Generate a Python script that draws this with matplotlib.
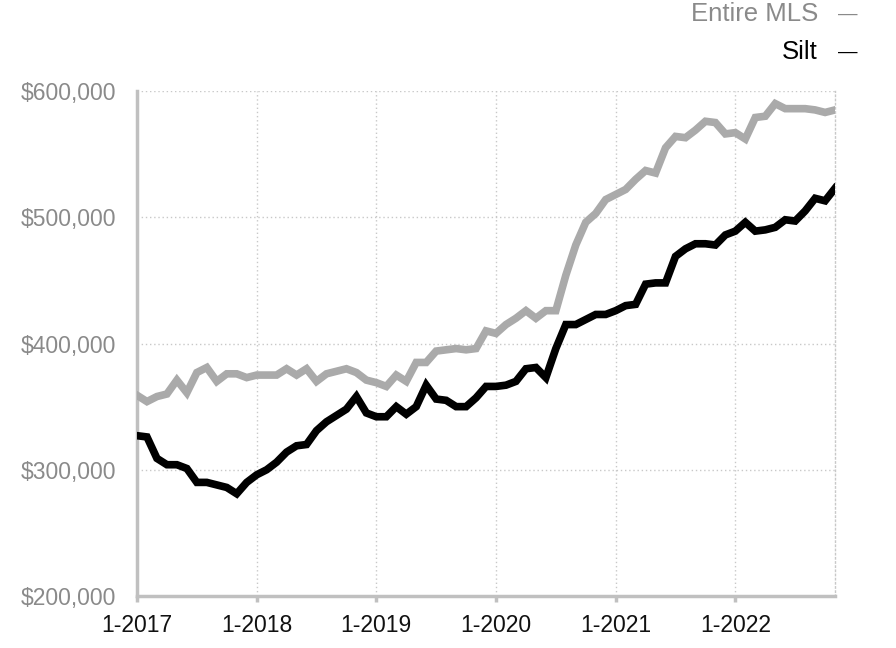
import matplotlib.pyplot as plt
import numpy as np

plt.rcParams['font.family'] = ['Liberation Sans', 'DejaVu Sans']

# monthly median price, Jan 2017 .. Nov 2022
entire_mls = [359, 354, 358, 360, 371, 361, 377, 381, 370, 376, 376, 373,
              375, 375, 375, 380, 375, 380, 370, 376, 378, 380, 377, 371,
              369, 366, 375, 370, 385, 385, 394, 395, 396, 395, 396, 410,
              408, 415, 420, 426, 420, 426, 426, 454, 478, 496, 503, 514,
              518, 522, 530, 537, 535, 555, 564, 563, 569, 576, 575, 566,
              567, 562, 579, 580, 590, 586, 586, 586, 585, 583, 585]
silt = [327, 326, 309, 304, 304, 301, 290, 290, 288, 286, 281, 290,
        296, 300, 306, 314, 319, 320, 331, 338, 343, 348, 358, 345,
        342, 342, 350, 344, 350, 367, 356, 355, 350, 350, 357, 366,
        366, 367, 370, 380, 381, 373, 396, 415, 415, 419, 423, 423,
        426, 430, 431, 447, 448, 448, 469, 475, 479, 479, 478, 486,
        489, 496, 489, 490, 492, 498, 497, 505, 515, 513, 523]
years = ['1-2017', '1-2018', '1-2019', '1-2020', '1-2021', '1-2022']
yticks = [200000, 300000, 400000, 500000, 600000]

months = np.arange(len(silt))
mls_vals = np.array(entire_mls) * 1000
silt_vals = np.array(silt) * 1000

fig = plt.figure(figsize=(8.96, 6.48), dpi=100)
ax = fig.add_axes([0.1529, 0.0802, 0.7791, 0.7794])

ax.plot(months, mls_vals, color='#aaaaaa', lw=5.5, solid_joinstyle='miter', zorder=3)
ax.plot(months, silt_vals, color='black', lw=5.5, solid_joinstyle='miter', zorder=4)

ax.set_xlim(0, len(silt) - 1)
ax.set_ylim(200000, 600000)
ax.set_xticks(np.arange(0, 72, 12))
ax.set_xticklabels(years)
ax.set_yticks(yticks)
ax.set_yticklabels(['${:,}'.format(v) for v in yticks])

ax.grid(True, color='#c8c8c8', linestyle=(0, (1, 2)), lw=1)
ax.set_axisbelow(True)

ax.spines['top'].set_visible(False)
ax.spines['right'].set_color('#c8c8c8')
ax.spines['right'].set_linestyle((0, (1, 2)))
ax.spines['right'].set_linewidth(1)
ax.spines['left'].set_color('#c0c0c0')
ax.spines['left'].set_linewidth(2.5)
ax.spines['bottom'].set_color('#c0c0c0')
ax.spines['bottom'].set_linewidth(2.5)

ax.tick_params(axis='y', length=0, pad=15, labelsize=16.5, labelcolor='#8a8a8a')
ax.tick_params(axis='x', length=4, width=2.5, color='#c0c0c0', pad=9,
               labelsize=16.5, labelcolor='#111111')

fig.text(0.913, 0.978, 'Entire MLS', ha='right', va='center', fontsize=18.5, color='#8a8a8a')
fig.text(0.946, 0.978, '\u2014', ha='center', va='center', fontsize=14, color='#8a8a8a')
fig.text(0.913, 0.92, 'Silt', ha='right', va='center', fontsize=18.5, color='black')
fig.text(0.946, 0.92, '\u2014', ha='center', va='center', fontsize=14, color='black')

plt.savefig('out.png', dpi=100)
